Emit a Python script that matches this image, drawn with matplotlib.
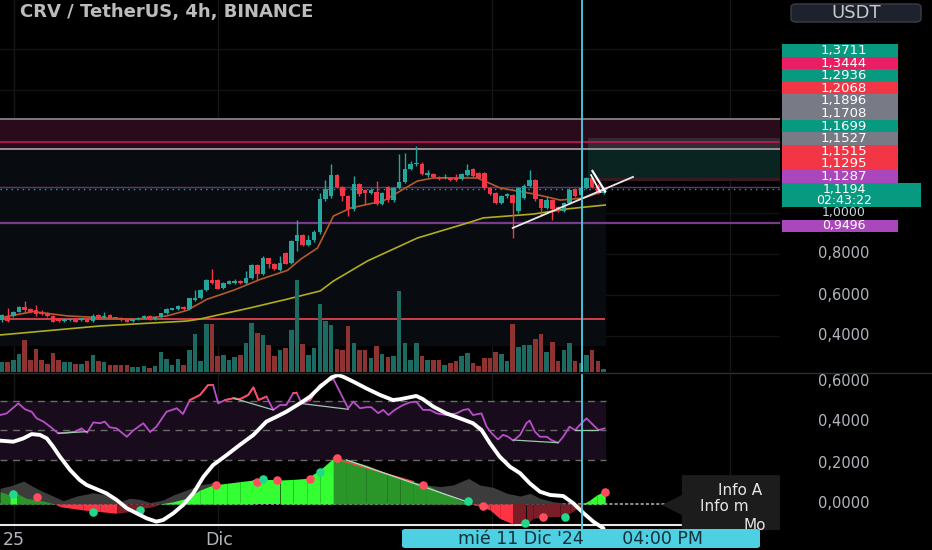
import matplotlib
matplotlib.use("Agg")
import matplotlib.pyplot as plt
from matplotlib.patches import Rectangle, FancyBboxPatch, Polygon
import numpy as np

W, H = 932, 550

# ---- 4h candles ----
opens = [.476, .493, .498, .519, .543, .530, .528, .519, .511, .498,
         .486, .473, .476, .481, .476, .481, .473, .502, .493, .502,
         .493, .489, .481, .473, .481, .486, .498, .481, .493, .511,
         .529, .530, .543, .530, .576, .584, .624, .673, .673, .632,
         .655, .660, .668, .660, .681, .746, .701, .779, .750, .720,
         .806, .758, .863, .893, .842, .867, .909, 1.067, 1.083, 1.185,
         1.127, 1.083, 1.018, 1.140, 1.111, 1.099, 1.104, 1.045, 1.127, 1.062,
         1.120, 1.151, 1.213, 1.237, 1.241, 1.185, 1.192, 1.176, 1.169, 1.172,
         1.172, 1.164, 1.185, 1.213, 1.197, 1.197, 1.120, 1.099, 1.050, 1.083,
         1.088, 1.010, 1.075, 1.132, 1.159, 1.067, 1.026, 1.062, 1.029, 1.010,
         1.050, 1.115, 1.088, 1.120, 1.169, 1.132, 1.099]
closes = [.502, .473, .519, .543, .525, .519, .506, .506, .498, .470,
          .473, .481, .484, .470, .486, .470, .498, .493, .498, .489,
          .486, .476, .470, .481, .489, .498, .481, .493, .511, .530,
          .535, .546, .530, .584, .587, .624, .673, .660, .631, .660,
          .668, .668, .660, .681, .746, .701, .782, .750, .725, .758,
          .753, .863, .893, .844, .867, .909, 1.067, 1.115, 1.185, 1.127,
          1.083, 1.018, 1.140, 1.091, 1.099, 1.111, 1.045, 1.099, 1.062, 1.120,
          1.151, 1.213, 1.237, 1.241, 1.189, 1.197, 1.176, 1.164, 1.176, 1.159,
          1.159, 1.189, 1.208, 1.181, 1.172, 1.120, 1.094, 1.050, 1.083, 1.091,
          1.050, 1.120, 1.132, 1.159, 1.067, 1.026, 1.062, 1.018, 1.010, 1.050,
          1.111, 1.083, 1.120, 1.169, 1.127, 1.099, 1.119]
highs = [.505, .538, .522, .546, .571, .535, .551, .525, .517, .502,
         .489, .486, .489, .486, .489, .484, .506, .506, .517, .506,
         .495, .493, .484, .484, .493, .502, .502, .498, .514, .535,
         .538, .551, .546, .587, .624, .630, .680, .728, .676, .663,
         .672, .676, .672, .717, .750, .750, .790, .782, .755, .790,
         .810, .870, .966, .900, .893, .915, 1.099, 1.159, 1.241, 1.190,
         1.132, 1.090, 1.181, 1.145, 1.115, 1.120, 1.156, 1.104, 1.132, 1.127,
         1.289, 1.294, 1.254, 1.327, 1.250, 1.208, 1.197, 1.181, 1.189, 1.176,
         1.189, 1.197, 1.237, 1.218, 1.200, 1.200, 1.125, 1.104, 1.090, 1.099,
         1.094, 1.127, 1.140, 1.208, 1.164, 1.070, 1.083, 1.067, 1.035, 1.055,
         1.120, 1.120, 1.125, 1.176, 1.175, 1.140, 1.125]
lows = [.470, .470, .495, .515, .514, .515, .498, .502, .495, .466,
        .468, .470, .473, .466, .473, .468, .470, .489, .489, .486,
        .484, .473, .466, .470, .478, .484, .478, .478, .489, .506,
        .525, .525, .525, .525, .571, .580, .620, .652, .627, .628,
        .652, .655, .655, .655, .676, .672, .697, .733, .720, .717,
        .750, .753, .815, .840, .838, .860, .900, 1.060, 1.075, 1.120,
        1.059, .985, 1.010, 1.085, 1.042, 1.094, 1.040, 1.040, 1.055, 1.055,
        1.115, 1.145, 1.208, 1.230, 1.185, 1.176, 1.172, 1.160, 1.164, 1.156,
        1.156, 1.160, 1.181, 1.176, 1.164, 1.115, 1.090, 1.045, 1.045, 1.075,
        .876, 1.000, 1.070, 1.127, 1.060, .985, 1.020, .964, 1.005, 1.005,
        1.045, 1.078, 1.083, 1.115, 1.120, 1.094, 1.094]
# volume overlay, bar heights (px of the pane)
volumes = [10, 10, 12, 18, 32, 12, 23, 12, 8, 19, 12, 10, 10, 8, 8, 11, 17, 11, 10, 7,
           7, 7, 7, 5, 5, 6, 4, 6, 20, 13, 7, 13, 7, 22, 38, 11, 48, 48, 16, 17,
           12, 15, 17, 29, 49, 39, 37, 27, 16, 22, 24, 42, 92, 28, 17, 24,
           68, 51, 47, 23, 22, 46, 29, 22, 22, 14, 26, 18, 15, 16, 81, 29, 12, 29, 16, 12,
           12, 12, 7, 9, 11, 16, 19, 9, 6, 14, 14, 20, 18, 11, 48, 25, 27, 27, 33, 38,
           20, 30, 11, 22, 29, 11, 9, 17, 22, 11, 3]

# moving averages (candle index, price)
ema_idx = [-0.35, 5.5, 11.5, 23.1, 29.1, 32.6, 36.1, 40.8, 45.5, 50.3, 52.6, 55.6, 58.4,
           61.4, 67.2, 73.2, 76, 83.8, 87.8, 93.7, 98.4, 102.5, 106]
ema_val = [.489, .519, .498, .481, .498, .525, .579, .623, .676, .720, .774, .829, .985,
           1.024, 1.059, 1.156, 1.171, 1.171, 1.122, 1.093, 1.063, 1.073, 1.107]
ma_idx = [-0.35, 17.3, 32.6, 34.9, 43.7, 50.3, 56.1, 58.4, 64.4, 73.2, 82, 84.8, 93.7, 99.6, 106.3]
ma_val = [.405, .449, .473, .483, .537, .580, .620, .668, .766, .878, .951, .976, .995, 1.020, 1.039]

# levels on the price pane
zone_top, zone_mid, zone_bot = 1.4585, 1.3444, 1.312
lvl_purple_hi = 1.1287
last_price = 1.1194
lvl_purple_lo = 0.9496
lvl_red = 0.483
trend_x = [90.0, 111.2]
trend_y = [0.927, 1.176]
flag1_x, flag1_y = [104.05, 106.3], [1.205, 1.105]
flag2_x, flag2_y = [103.8, 105.4], [1.185, 1.102]

# oscillator pane
rsi_idx = [-0.35, 0.82, 2.88, 4.06, 5.23, 6.1, 7.3, 8.5, 9.9, 11.4, 12.9, 14.0, 15.0, 16.1, 17.3,
           18.1, 19.0, 20.2, 22.0, 23.1, 24.9, 26.1, 27.2, 29.0, 30.8, 31.9, 33.1, 34.9, 36.3,
           37.2, 38.1, 39.3, 40.8, 41.9, 43.4, 44.3, 45.2, 46.6, 47.8, 49.0, 50.1, 51.3, 51.9,
           52.8, 54.3, 56.0, 57.2, 58.4, 61.0, 61.9, 63.1, 64.2, 65.1, 66.3, 67.2, 68.1, 69.2,
           70.7, 71.9, 73.0, 74.2, 75.4, 76.6, 78.3, 80.1, 81.3, 82.2, 83.0, 84.5, 85.4, 86.3,
           87.4, 88.3, 89.2, 90.1, 91.3, 92.4, 93.0, 93.9, 94.8, 96.0, 96.8, 98.0, 98.9, 100.0,
           101.0, 101.8, 103.0, 104.2, 105.1, 106.2]
rsi_val = [.434, .442, .491, .462, .450, .418, .402, .377, .345, .348, .353, .369, .348, .398, .394,
           .402, .374, .369, .328, .358, .394, .351, .377, .450, .467, .439, .507, .532, .580,
           .580, .491, .507, .516, .511, .532, .569, .507, .524, .459, .483, .483, .540, .543,
           .491, .507, .580, .600, .610, .467, .499, .467, .472, .472, .443, .459, .434, .459,
           .483, .496, .499, .459, .459, .442, .434, .442, .459, .463, .434, .442, .377, .345,
           .315, .337, .328, .309, .337, .394, .407, .353, .328, .328, .312, .299, .328, .377,
           .360, .385, .418, .385, .361, .369]
band_hi, band_mid, band_lo = 0.502, 0.361, 0.215

wave_idx = [-0.35, 2.0, 3.76, 5.23, 6.7, 7.9, 9.0, 10.2, 12.0, 13.7, 14.9, 16.7, 18.4, 20.2,
            22.0, 23.7, 25.5, 27.2, 28.4, 30.2, 31.9, 33.7, 35.5, 37.2, 39.6, 41.9, 44.3, 46.6,
            48.4, 50.1, 52.5, 54.3, 56.0, 58.1, 59.2, 60.1, 61.9, 64.2, 66.6, 68.9, 70.1, 73.0,
            74.2, 76.0, 78.3, 80.7, 83.0, 84.5, 86.0, 87.7, 89.5, 91.3, 93.0, 94.8, 96.6, 98.9,
            100.7, 102.5, 104.2, 106.0]
wave_val = [.309, .304, .320, .341, .337, .320, .280, .231, .166, .117, .093, .072, .052, .020,
            -.021, -.045, -.070, -.086, -.078, -.045, -.005, .052, .133, .190, .239, .288, .337, .402,
            .426, .450, .491, .524, .570, .618, .629, .621, .597, .564, .532, .507, .511, .527,
            .511, .475, .442, .418, .394, .361, .296, .231, .182, .150, .101, .060, .044, .039,
            .003, -.045, -.086, -.119]

hist_idx = [-0.35, 1.4, 2.6, 4.3, 6.1, 7.9, 9.3, 10.2, 14.3, 17.3, 20.2, 22.5, 24.9, 26.7, 27.8,
            28.4, 30.2, 32.5, 34.9, 37.2, 39.6, 41.9, 44.3, 46.6, 49.0, 51.3, 53.7, 56.0, 58.4,
            60.7, 64.2, 67.8, 70.1, 72.5, 74.8, 77.8, 81.3, 82.4, 84.2, 86.0, 87.7, 90.1, 92.4,
            93.6, 96.0, 98.3, 100.1, 101.8, 102.4, 103.6, 104.8, 106.3]
hist_val = [.060, .044, .052, .028, .020, .011, 0.0, -.013, -.029, -.037, -.045, -.037, -.021, -.013, 0.0,
            .003, .011, .028, .068, .093, .101, .109, .117, .117, .117, .120, .125, .166, .223,
            .218, .190, .150, .125, .109, .093, .052, .011, 0.0, -.010, -.029, -.070, -.098, -.098,
            -.070, -.062, -.062, -.045, -.013, 0.0, .020, .044, .065]
gray1_idx = [-0.35, 2.0, 3.8, 5.5, 7.3, 9.0, 10.8, 13.2, 16.1, 18.4, 20.8, 22.5, 24.3, 26.1, 28.4,
             30.2, 32.5, 34.9, 37.2]
gray1_val = [.076, .093, .112, .085, .060, .039, .016, .039, .055, .044, .011, .028, .023, .007, .020,
             .044, .068, .093, .104]
gray2_idx = [74.8, 77.3, 79.5, 82.2, 84.2, 86.6, 89.0, 91.3, 93.1, 94.8, 97.1, 99.5]
gray2_val = [.093, .085, .093, .125, .093, .081, .052, .039, .052, .028, .011, .003]

red_dot_idx = [6.1, 37.8, 44.9, 48.4, 54.3, 59.0, 74.2, 84.8, 95.4, 106.3]
red_dot_val = [.036, .093, .109, .117, .120, .223, .093, -.010, -.062, .060]
grn_dot_idx = [2.0, 16.1, 24.3, 46.0, 56.0, 82.2, 92.1, 99.2]
grn_dot_val = [.049, -.037, -.029, .120, .158, .016, -.094, -.062]

rsi_div = [([9.9, 15.0], [.345, .353]), ([40.8, 47.8], [.516, .459]), ([52.5, 61.0], [.491, .462]),
           ([90.1, 98.0], [.312, .299]), ([101.0, 105.1], [.361, .361])]

grid_idx = [2.1, 38.1, 86.3, 128.3]
cursor_idx = 102.2

price_ticks = [0.8, 0.6, 0.4]
osc_ticks = [0.6, 0.4, 0.2, 0.0]
stack_vals = ['1,3711', '1,3444', '1,2936', '1,2068', '1,1896', '1,1708', '1,1699',
              '1,1527', '1,1515', '1,1295', '1,1287']
stack_cols = ['#089981', '#e91e63', '#089981', '#f23645', '#787b86', '#787b86', '#089981',
              '#787b86', '#f23645', '#f23645', '#ab47bc']

TEAL, RED = '#26a69a', '#f23645'


def fx(px):
    return px / W


def fy(py):
    return 1 - py / H


def label(y0, s, size=10, color='#d1d4dc'):
    fig.text(fx(844), fy(y0), s, ha='center', va='center', fontsize=size, color=color)


fig = plt.figure(figsize=(W / 100, H / 100), dpi=100, facecolor='black')
ax1 = fig.add_axes([0, fy(372), fx(780), 372 / H])
ax2 = fig.add_axes([0, fy(530), fx(780), 156 / H])
for ax in (ax1, ax2):
    ax.set_facecolor('black')
    for s in ax.spines.values():
        s.set_visible(False)
    ax.set_xticks([])
    ax.set_yticks([])
ax1.set_xlim(-0.35, 137.1)
ax1.set_ylim(1 - 159 / 205, 1 + 213 / 205)
ax2.set_xlim(-0.35, 137.1)
ax2.set_ylim(-26 / 205, 130 / 205)

n = len(closes)
idx = np.arange(n)
o = np.array(opens)
c = np.array(closes)
up = c >= o

# ---- price pane ----
for g in grid_idx:
    ax1.axvline(g, color='#161616', lw=1, zorder=0)
    ax2.axvline(g, color='#161616', lw=1, zorder=0)
for p in [0.4, 0.6, 0.8, 1.0, 1.2, 1.4, 1.6, 1.8]:
    ax1.axhline(p, color='#121212', lw=1, zorder=0)

ax1.add_patch(Rectangle((-0.35, 0.351), 106.75, zone_bot - 0.351, color='#080c10', lw=0, zorder=0.5))
ax1.axhspan(zone_bot, zone_top, color='#2a0b1b', lw=0, zorder=0.6)
ax1.add_patch(Rectangle((103.2, zone_bot), 40, 1.366 - zone_bot, color='#342a31', lw=0, zorder=0.7))
ax1.add_patch(Rectangle((103.2, 1.171), 40, zone_bot - 1.171, color='#0a2521', lw=0, zorder=0.7))
ax1.add_patch(Rectangle((103.2, 1.155), 40, 1.171 - 1.155, color='#3a1a22', lw=0, zorder=0.7))
ax1.axhline(zone_top, color='#8c8c8c', lw=1.2, zorder=1)
ax1.axhline(zone_mid, color='#c2185b', lw=1.2, zorder=1)
ax1.axhline(zone_bot, color='#a8a8a8', lw=1.2, zorder=1)
ax1.axhline(lvl_purple_hi, color='#6a2f78', lw=1, zorder=1)
ax1.axhline(last_price, color='#26a69a', lw=1, ls=(0, (1, 3)), zorder=1)
ax1.axhline(lvl_purple_lo, color='#7a3a8c', lw=1.6, zorder=1)
ax1.hlines(lvl_red, -0.35, 106.3, color='#e0434f', lw=1.3, zorder=1)

ax1.plot(ma_idx, ma_val, color='#b0ac1c', lw=1.2, zorder=2)
ax1.plot(ema_idx, ema_val, color='#b35a2a', lw=1.2, zorder=2)

cols = np.where(up, TEAL, RED)
ax1.vlines(idx, lows, highs, colors=cols, lw=1, zorder=3)
body = np.maximum(np.abs(c - o), 0.006)
ax1.bar(idx, body, bottom=np.minimum(o, c), width=0.8, color=cols, lw=0, zorder=4)

ax1.plot(trend_x, trend_y, color='#e8e8e8', lw=1.3, zorder=5)
ax1.plot(flag1_x, flag1_y, color='white', lw=1.6, zorder=5)
ax1.plot(flag2_x, flag2_y, color='white', lw=1.2, zorder=5)

axv = ax1.twinx()
axv.set_ylim(0, 372)
axv.set_xlim(-0.35, 137.1)
axv.axis('off')
vcols = np.where(up, '#1b6b63', '#8e3232')
axv.bar(idx, volumes, width=0.8, color=vcols, lw=0)
axv.axvline(cursor_idx, color='#4dd0e1', lw=1.3)

# ---- oscillator pane ----
ax2.add_patch(Rectangle((-0.35, band_lo), 106.8, band_hi - band_lo, color='#170b1c', lw=0, zorder=0.5))
for b in (band_hi, band_mid, band_lo):
    ax2.hlines(b, -0.35, 106.5, color='#6a6a6a', lw=1, ls=(0, (5, 4)), zorder=1)
ax2.axhline(0, color='#8a8a8a', lw=1.5, ls=(0, (1.5, 1)), zorder=1)
ax2.axhline(-0.1, color='#e8e8e8', lw=1.5, zorder=1)

ax2.fill_between(gray1_idx, 0, gray1_val, color='#3c3c3c', lw=0, zorder=2)
ax2.fill_between(gray2_idx, 0, gray2_val, color='#3c3c3c', lw=0, zorder=2)
hx = np.array(hist_idx)
hv = np.array(hist_val)
for k in range(len(hx) - 1):
    rising = hv[k + 1] >= hv[k]
    if hv[k] + hv[k + 1] >= 0:
        col = '#33ff33' if rising else '#2a962a'
    else:
        col = '#7a1d26' if rising else '#ff3344'
    ax2.fill_between(hx[k:k + 2], 0, hv[k:k + 2], color=col, lw=0, zorder=3)

ax2.plot([58.4, 72.5], [.223, .109], color='#ff4444', lw=1, zorder=4)
ax2.plot([60.7, 81.9], [.215, .011], color='#b8dcc8', lw=0.9, zorder=4)
ax2.scatter(red_dot_idx, red_dot_val, s=38, color='#ff4d5e', lw=0, zorder=5)
ax2.scatter(grn_dot_idx, grn_dot_val, s=38, color='#22d98a', lw=0, zorder=5)

rv = np.array(rsi_val)
ax2.plot(rsi_idx, rv, color='#b94fc8', lw=1.3, zorder=6)
ax2.plot(rsi_idx, np.ma.masked_where(rv < band_hi, rv), color='#ff4a5a', lw=1.3, zorder=6)
for xs, ys in rsi_div:
    ax2.plot(xs, ys, color='#9ec8aa', lw=0.9, zorder=6)

ax2.plot(wave_idx, wave_val, color='white', lw=2.8, zorder=7, solid_capstyle='round')
ax2.axvline(cursor_idx, color='#4dd0e1', lw=1.3, zorder=8)

# tooltip (cut by the price scale)
ax2.add_patch(Polygon([(116.3, -0.005), (119.8, 0.044), (119.8, 0.141), (140, 0.141),
                       (140, -0.13), (119.8, -0.13), (119.8, -0.054)],
                      closed=True, color='#1c1c1c', lw=0, zorder=9))
for tx, ty, t in [(126.2, 0.066, 'Info A'), (123.0, -0.012, 'Info m'), (130.6, -0.104, 'Mo'),
                  (136.8, 0.118, 'I')]:
    ax2.text(tx, ty, t, color='#e6e6e6', fontsize=11, va='center', ha='left',
             clip_on=True, zorder=10)

# ---- scales, labels ----
fig.add_artist(plt.Line2D([0, 1], [fy(373), fy(373)], color='#2a2e39', lw=1))
for p in price_ticks:
    label(213 - (p - 1) * 205, f'{p:.4f}'.replace('.', ','), size=10.5, color='#b2b5be')
for v in osc_ticks:
    label(504 - v * 205, f'{v:.4f}'.replace('.', ','), size=10.5, color='#b2b5be')

top = 44
for k, (val, col) in enumerate(zip(stack_vals, stack_cols)):
    y0 = top + k * 12.6
    fig.add_artist(Rectangle((fx(782), fy(y0 + 12.6)), fx(116), 12.6 / H, color=col, lw=0))
    label(y0 + 6.5, val, size=9.5, color='white')
fig.add_artist(Rectangle((fx(782), fy(207)), fx(139), 24 / H, color='#089981', lw=0))
label(189, '1,1194', size=9, color='white')
label(200.5, '02:43:22', size=9, color='white')
label(213, '1,0000', size=9, color='#d1d4dc')
fig.add_artist(Rectangle((fx(782), fy(232)), fx(116), 12 / H, color='#ab47bc', lw=0))
label(226, '0,9496', size=9, color='white')

fig.add_artist(FancyBboxPatch((fx(791), fy(22)), fx(130), 18 / H,
                              boxstyle='round,pad=0,rounding_size=0.006',
                              fc='#1e222d', ec='#3a3e48', lw=1))
fig.text(fx(856), fy(12.5), 'USDT', ha='center', va='center', fontsize=13, color='#c8c8c8')

fig.text(fx(20), fy(12), 'CRV / TetherUS, 4h, BINANCE', ha='left', va='center',
         fontsize=13, fontweight='bold', color='#bcbcbc')

fig.text(fx(14), fy(540), '25', ha='center', va='center', fontsize=12.5, color='#b2b5be')
fig.text(fx(219), fy(540), 'Dic', ha='center', va='center', fontsize=12.5, color='#b2b5be')
fig.add_artist(FancyBboxPatch((fx(402), fy(548)), fx(358), 19 / H,
                              boxstyle='round,pad=0,rounding_size=0.004',
                              fc='#4dd0e1', ec='none'))
fig.text(fx(581), fy(538.5), "mié 11 Dic '24       04:00 PM", ha='center', va='center',
         fontsize=12.5, color='#15303a')

fig.savefig('out.png', dpi=100, facecolor='black')
